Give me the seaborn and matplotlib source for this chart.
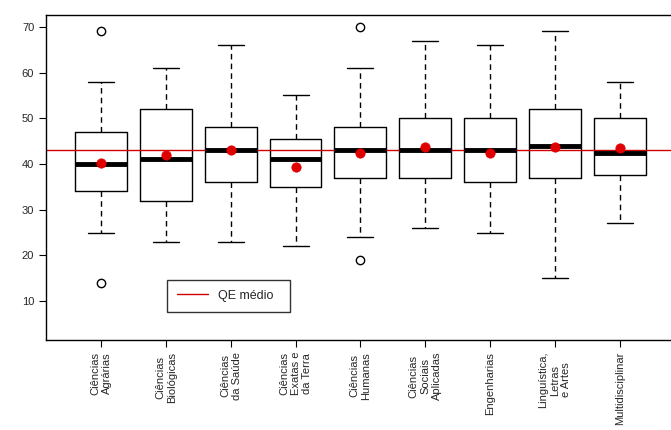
import matplotlib
matplotlib.use("Agg")
import matplotlib.pyplot as plt
import seaborn as sns
import pandas as pd

sns.set_style("white")
plt.rcParams['font.family'] = ['Liberation Sans', 'DejaVu Sans']

# Data
areas = ['Ciências\nAgrárias', 'Ciências\nBiológicas', 'Ciências\nda Saúde', 'Ciências\nExatas e\nda Terra',
         'Ciências\nHumanas', 'Ciências\nSociais\nAplicadas', 'Engenharias', 'Linguística,\nLetras\ne Artes',
         'Multidisciplinar']
whislo = [25, 23, 23, 22, 24, 26, 25, 15, 27]
q1 = [34, 32, 36, 35, 37, 37, 36, 37, 37.5]
med = [40, 41, 43, 41, 43, 43, 43, 44, 42.5]
q3 = [47, 52, 48, 45.5, 48, 50, 50, 52, 50]
whishi = [58, 61, 66, 55, 61, 67, 66, 69, 58]
means = [40.3, 42.0, 43.0, 39.3, 42.5, 43.7, 42.5, 43.7, 43.5]
fliers = [[69, 14], [], [], [], [70, 19], [], [], [], []]
qe_medio = 43

fig = plt.figure(figsize=(6.71, 4.30), dpi=100)
ax = fig.add_axes([46/671, 90/430, 632/671, 325/430])

stats = [dict(whislo=whislo[i], q1=q1[i], med=med[i], q3=q3[i], whishi=whishi[i], fliers=fliers[i])
         for i in range(len(areas))]
ax.bxp(stats, positions=range(1, len(areas) + 1), widths=0.8,
       boxprops=dict(color='black', linewidth=1),
       medianprops=dict(color='black', linewidth=3.5),
       whiskerprops=dict(color='black', linestyle=(0, (4, 3)), linewidth=1),
       capprops=dict(color='black', linewidth=1),
       flierprops=dict(marker='o', markerfacecolor='white', markeredgecolor='black', markersize=6))

df = pd.DataFrame({'pos': range(1, len(areas) + 1), 'mean': means})
sns.scatterplot(data=df, x='pos', y='mean', color='#e00000', s=45, edgecolor='#e00000', ax=ax, zorder=5)
ax.axhline(qe_medio, color='#d00000', linewidth=1, label='QE médio')

ax.set_xlim(0.15, 9.9)
ax.set_ylim(1.5, 72.6)
ax.set_xticks(range(1, len(areas) + 1))
ax.set_xticklabels(areas, rotation=90, fontsize=8, ha='center', va='top', multialignment='center')
ax.set_yticks([10, 20, 30, 40, 50, 60, 70])
ax.tick_params(axis='both', length=5, labelsize=8, color='black', direction='out', left=True, bottom=True)
ax.set_xlabel('')
ax.set_ylabel('')
for s in ax.spines.values():
    s.set_color('black')
    s.set_linewidth(1)

leg = ax.legend(loc='lower left', bbox_to_anchor=(115/632, 22/325, 135/632, 35/325), mode='expand',
                fancybox=False, edgecolor='black', fontsize=9, handlelength=2.5, borderpad=0.8)
leg.get_frame().set_linewidth(1)

fig.savefig('out.png', dpi=100)
